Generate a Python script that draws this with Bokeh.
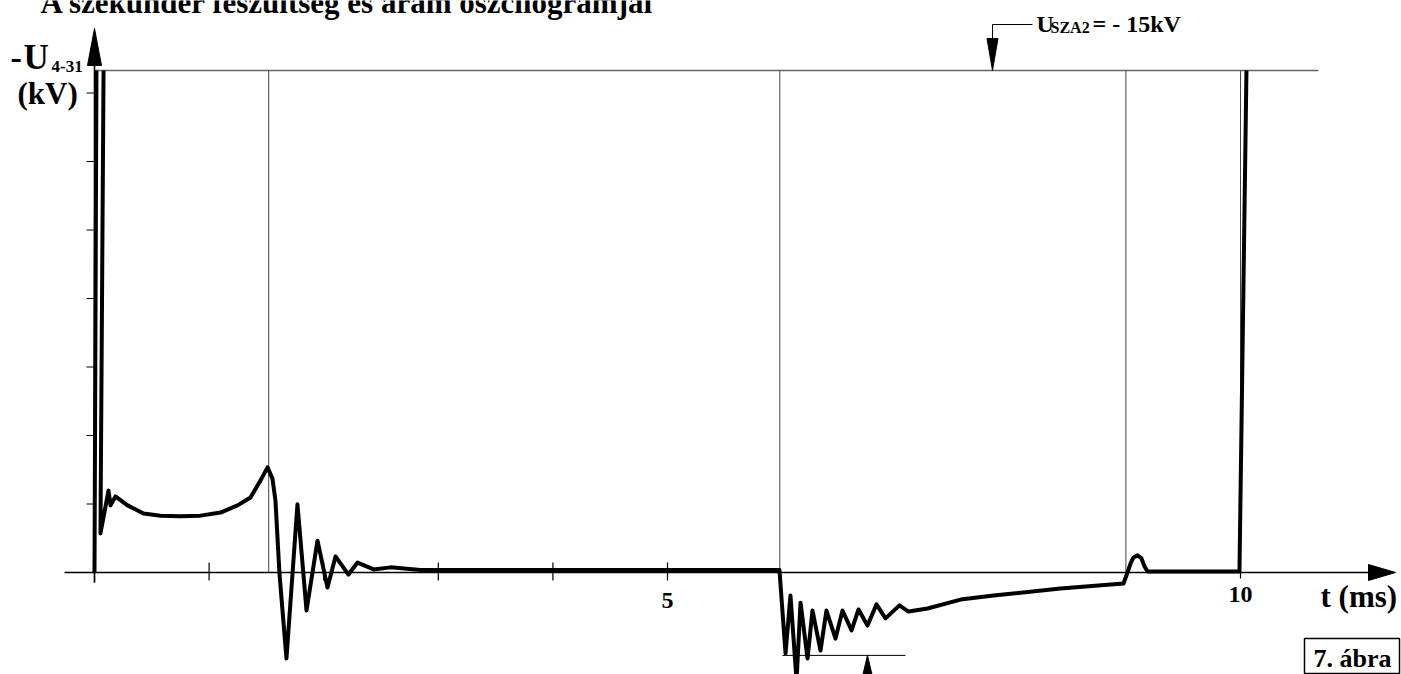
from bokeh.plotting import figure
from bokeh.embed import file_html
from bokeh.resources import INLINE
from bokeh.core.properties import value
import numpy as np

# ---- data ----
# time in ms, -U4-31 in kV ; NaN breaks the trace where it leaves the chart at the top
t_ms = [0.000, 0.017, np.nan,
        0.079, 0.052, 0.122, 0.140, 0.183, 0.288, 0.428, 0.576, 0.750, 0.925,
        1.100, 1.248, 1.361, 1.449, 1.510, 1.553, 1.579, 1.614, 1.675, 1.771,
        1.850, 1.946, 2.033, 2.103, 2.216, 2.295, 2.435, 2.583, 2.845, 5.977,
        6.030, 6.073, 6.126, 6.161, 6.222, 6.265, 6.335, 6.387, 6.466, 6.527,
        6.606, 6.667, 6.745, 6.824, 6.902, 7.024, 7.103, 7.269, 7.557, 7.845,
        8.429, 8.979, 9.014, 9.040, 9.066, 9.101, 9.136, 9.162, 9.188, 9.991,
        10.052]
u_kv = [0.00, 14.66, np.nan,
        14.66, 1.14, 2.39, 1.96, 2.22, 1.96, 1.72, 1.66, 1.64, 1.66,
        1.75, 1.96, 2.19, 2.69, 3.07, 2.74, 2.10, -0.03, -2.51, 1.99,
        -1.11, 0.93, -0.44, 0.47, -0.06, 0.29, 0.09, 0.15, 0.07, 0.07,
        -2.36, -0.67, -3.15, -0.88, -2.51, -1.11, -2.28, -1.11, -1.93, -1.11,
        -1.69, -1.08, -1.55, -0.93, -1.34, -0.96, -1.14, -1.05, -0.79, -0.67,
        -0.47, -0.32, 0.00, 0.26, 0.44, 0.50, 0.41, 0.18, 0.03, 0.03,
        14.66]

x_ticks = [1, 2, 3, 4, 5]
x_tick_labels = {5: "5", 10: "10"}
y_ticks = [2, 4, 6, 8, 10, 12, 14]
grid_t = [1.52, 5.98, 9.0, 10.0]
u_limit = 14.66          # U_SZA2 = -15 kV line
u_limit_t_end = 10.68
u_limit_arrow_t = 7.836
min_marker_t = (6.003, 7.077)
min_marker_u = -2.42
min_arrow_t = 6.745

title = "A szekunder feszültség és áram oszcilogramjai"

# ---- geometry: pixel <-> data helpers (page pixels) ----
SX = 114.6   # px per ms
SY = 34.25   # px per kV
X0PX, Y0PX = 94, 572
def X(px): return (px - X0PX) / SX
def Y(py): return (Y0PX - py) / SY
def DX(d): return d / SX
def DY(d): return d / SY

W, H = 1401, 674
p = figure(width=W, height=H, x_range=(X(0), X(W)), y_range=(Y(H), Y(0)),
           output_backend="svg", toolbar_location=None, min_border=0,
           x_axis_location=None, y_axis_location=None)
p.grid.visible = False
p.outline_line_color = None
p.background_fill_color = "white"

FONT = value("Liberation Serif")

# top limit line
p.segment(x0=[0], y0=[u_limit], x1=[u_limit_t_end], y1=[u_limit], line_color="#666666", line_width=1.5)
# vertical grid lines
p.segment(x0=grid_t, y0=[0] * len(grid_t), x1=grid_t, y1=[u_limit] * len(grid_t),
          line_color="#444444", line_width=1)

# x axis + arrow
p.segment(x0=[X(64)], y0=[0], x1=[X(1372)], y1=[0], line_color="black", line_width=1.6)
p.patch(x=[X(1368), X(1395), X(1368)], y=[DY(8), 0, -DY(8)], fill_color="black", line_color="black")
# x ticks
p.segment(x0=x_ticks, y0=[DY(10)] * len(x_ticks), x1=x_ticks, y1=[-DY(8)] * len(x_ticks),
          line_color="black", line_width=1.2)
p.segment(x0=[0, 10], y0=[0, 0], x1=[0, 10], y1=[-DY(10), -DY(6)], line_color="black", line_width=1.2)

# y axis + arrow
p.segment(x0=[0], y0=[Y(582)], x1=[0], y1=[Y(62)], line_color="black", line_width=1.6)
p.patch(x=[-DX(7), 0, DX(7)], y=[Y(65), Y(28), Y(65)], fill_color="black", line_color="black")
p.segment(x0=[-DX(8)] * len(y_ticks), y0=y_ticks, x1=[0] * len(y_ticks), y1=y_ticks,
          line_color="black", line_width=1.2)

# the trace
p.line(t_ms, u_kv, line_color="black", line_width=4, line_join="round")

# U_SZA2 arrow (leader)
at = u_limit_arrow_t
p.line([X(1032), at, at], [Y(24), Y(24), Y(38)], line_color="black", line_width=1)
p.patch(x=[at - DX(5.5), at, at + DX(5.5)], y=[Y(38), u_limit, Y(38)], fill_color="black", line_color="black")

# min marker at the bottom
p.segment(x0=[min_marker_t[0]], y0=[min_marker_u], x1=[min_marker_t[1]], y1=[min_marker_u],
          line_color="black", line_width=1)
p.patch(x=[min_arrow_t - DX(5), min_arrow_t, min_arrow_t + DX(5)],
        y=[Y(676), min_marker_u, Y(676)], fill_color="black", line_color="black")

def txt(xpx, base_px, s, size, align="left"):
    # small empirical shift so the glyph baseline lands on base_px
    yb = base_px - 0.35 * size
    p.text(x=[X(xpx)], y=[Y(yb)], text=[s], text_font=FONT, text_font_style="bold",
           text_font_size=f"{size}px", text_align=align, text_baseline="alphabetic",
           text_color="black")

# title (cut by the top of the picture)
txt(40, 13, title, 31)
# y label
txt(10, 69, "-", 34)
txt(23, 69, "U", 35)
txt(51, 72, "4-31", 17)
txt(17, 104, "(kV)", 31)
# x tick labels
for k, s in x_tick_labels.items():
    txt(X0PX + k * SX, 608 if k == 5 else 602, s, 24, "center")
txt(1320, 607, "t (ms)", 31)
# U_SZA2 label
txt(1036, 32, "U", 24)
txt(1050, 33, "SZA2", 16)
txt(1092, 32, "= - 15kV", 24)
# figure number box
p.quad(left=[X(1304)], right=[X(1399)], top=[Y(638)], bottom=[Y(673)],
       fill_color="white", line_color="black", line_width=1.5)
txt(1313, 667, "7. ábra", 26)

open("out.html", "w").write(file_html(p, INLINE))
